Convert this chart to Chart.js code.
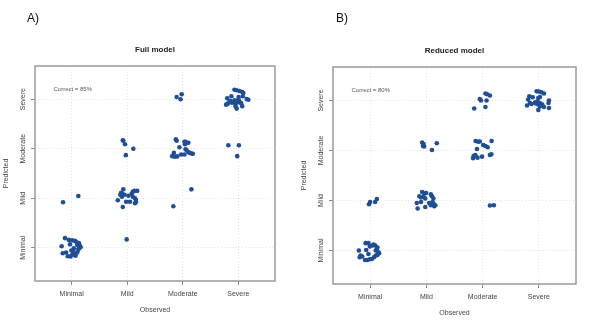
<!DOCTYPE html>
<html>
<head>
<meta charset="utf-8">
<script src="https://cdn.jsdelivr.net/npm/chart.js@4.4.1/dist/chart.umd.min.js"></script>
<style>
  body { margin: 0; background: #fff; }
  .panel { position: absolute; top: 0; height: 329px; }
</style>
</head>
<body>
<div class="panel" style="left:0;width:300px"><canvas id="fullChart" width="300" height="329"></canvas></div>
<div class="panel" style="left:300px;width:302px"><canvas id="reducedChart" width="302" height="329"></canvas></div>
<script>
// severity levels, used for both axes (observed on x, predicted on y)
const levels = ['Minimal', 'Mild', 'Moderate', 'Severe'];

// jittered [observed, predicted] pairs, full model
const fullModel = [
  // observed Minimal
  [0.88,1.195],[0.95,1.16],[1.01,1.15],[1.09,1.11],[1.13,1.095],[0.82,1.03],[0.97,1.07],[1.04,0.99],
  [1.13,0.99],[1.16,1.01],[0.84,0.89],[0.90,0.905],[0.98,0.825],[1.01,0.86],[1.05,0.88],[1.10,0.905],
  [1.15,1.03],[1.10,1.06],[0.995,0.945],[1.03,0.925],[1.12,0.96],[1.07,0.84],[0.93,0.83],[1.14,1.05],
  [1.06,1.14],[0.845,1.92],[1.12,2.046],
  // observed Mild
  [1.99,1.17],
  [1.93,2.18],[1.89,2.11],[1.92,2.08],[1.95,2.07],[1.905,2.03],[1.83,1.96],[1.98,1.93],[2.05,1.93],
  [1.92,1.825],[2.10,2.13],[2.13,2.15],[2.18,2.15],[2.10,2.03],[2.14,2.0],[2.155,1.97],[2.14,1.90],
  [2.16,1.93],[1.875,2.07],[2.02,2.05],[2.08,2.09],
  [1.93,3.16],[1.92,3.17],[1.96,3.09],[2.11,3.0],[1.975,2.87],
  // observed Moderate
  [2.83,1.84],[3.155,2.18],
  [2.875,3.19],[2.89,3.16],[3.03,3.14],[3.05,3.14],[3.10,3.12],[3.04,3.09],[2.94,3.03],[3.05,2.99],
  [3.07,2.97],[3.10,2.93],[3.155,2.905],[3.18,2.90],[2.84,2.92],[2.81,2.85],[2.855,2.84],[2.90,2.845],
  [2.97,2.885],[3.03,2.885],[3.125,2.92],
  [2.89,4.045],[2.96,4.00],[2.98,4.10],
  // observed Severe
  [3.82,3.07],[4.01,3.07],[3.98,2.85],
  [3.93,4.19],[3.97,4.18],[4.02,4.165],[4.07,4.145],[4.09,4.125],[3.875,4.06],[3.80,4.02],[4.005,4.045],
  [4.08,4.06],[4.15,4.005],[4.18,3.99],[3.84,3.94],[3.81,3.91],[3.78,3.89],[3.93,3.98],[3.97,3.96],
  [3.99,3.94],[4.02,3.94],[3.95,3.92],[4.05,3.92],[3.95,3.86],[4.07,3.86],[3.97,3.81],[3.86,3.96],
  [3.89,3.93],[4.005,3.99]
];

// jittered [observed, predicted] pairs, reduced model
const reducedModel = [
  // observed Minimal
  [0.92,1.147],[0.97,1.147],[0.995,1.08],[1.04,1.10],[1.09,1.10],[1.12,1.035],[1.10,1.0],[1.15,0.966],
  [1.16,0.946],[0.80,1.0],[0.83,0.90],[0.86,0.88],[0.815,0.865],[0.91,0.81],[0.95,0.81],[0.995,0.825],
  [1.03,0.83],[1.07,0.865],[1.10,0.90],[1.13,0.91],[0.93,1.01],[0.97,0.93],[1.06,1.12],[1.13,1.06],
  [0.98,1.925],[1.0,1.97],[1.09,1.97],[1.12,2.03],
  // observed Mild
  [1.925,2.17],[1.96,2.14],[1.995,2.15],[1.875,2.085],[1.905,2.06],[1.95,2.07],[1.98,2.04],[2.08,2.125],
  [2.10,2.085],[2.125,2.04],[1.83,1.95],[1.845,1.84],[1.905,1.97],[1.98,1.87],[2.05,1.95],[2.08,1.905],
  [2.125,1.94],[2.14,1.885],[2.16,1.905],[2.11,1.97],
  [1.925,3.16],[1.95,3.13],[1.94,3.09],[1.96,3.08],[2.10,3.01],[2.185,3.145],
  // observed Moderate
  [3.05,4.14],[3.08,4.125],[3.13,4.10],[2.95,4.03],[2.97,4.0],[3.07,4.0],[2.85,3.84],[3.05,3.87],
  [2.875,3.19],[2.92,3.175],[2.95,3.18],[3.16,3.19],[3.01,3.11],[3.05,3.09],[3.09,3.065],[2.90,3.03],
  [2.84,2.89],[2.87,2.91],[2.83,2.845],[2.91,2.857],[2.99,2.877],[3.13,2.91],[3.155,2.925],
  [3.13,1.90],[3.20,1.905],
  // observed Severe
  [3.96,4.185],[4.0,4.18],[4.045,4.165],[4.09,4.14],[3.83,4.085],[3.89,4.065],[3.81,4.02],[3.99,4.05],
  [4.02,4.07],[4.18,4.0],[4.17,3.95],[3.84,3.95],[3.79,3.90],[3.87,3.93],[3.93,3.96],[3.97,3.98],
  [4.0,3.96],[4.03,3.94],[3.99,3.92],[4.06,3.92],[4.02,3.88],[3.99,3.81],[4.09,3.87],[4.18,3.85],
  [3.95,3.94]
];

const FONT = "'Liberation Sans', Arial, sans-serif";

// box, titles and rotated y labels drawn R-style around the plot area
const panelText = {
  id: 'panelText',
  beforeDatasetsDraw(chart) {
    const { ctx, chartArea: a } = chart;
    ctx.save();
    ctx.strokeStyle = '#9a9a9a';
    ctx.lineWidth = 1.5;
    ctx.strokeRect(a.left, a.top, a.right - a.left, a.bottom - a.top);
    ctx.restore();
  },
  afterDraw(chart, args, opts) {
    const { ctx, chartArea: a } = chart;
    const cx = (a.left + a.right) / 2;
    const cy = (a.top + a.bottom) / 2;
    ctx.save();
    ctx.textBaseline = 'middle';

    ctx.fillStyle = '#111';
    ctx.font = '12px ' + FONT;
    ctx.textAlign = 'left';
    ctx.fillText(opts.tag, opts.tagX, 18.5);

    ctx.fillStyle = '#222';
    ctx.font = 'bold 8px ' + FONT;
    ctx.textAlign = 'center';
    ctx.fillText(opts.title, cx, a.top - 16);

    ctx.fillStyle = '#555';
    ctx.font = '6px ' + FONT;
    ctx.textAlign = 'left';
    ctx.fillText(opts.note, a.left + 18.5, a.top + 23.5);

    ctx.fillStyle = '#444';
    ctx.font = '7px ' + FONT;
    ctx.textAlign = 'center';
    ctx.fillText('Observed', cx, a.bottom + 29);

    const y = chart.scales.y;
    ctx.save();
    ctx.translate(a.left - 28.5, cy);
    ctx.rotate(-Math.PI / 2);
    ctx.fillText('Predicted', 0, 0);
    ctx.restore();

    levels.forEach((lab, i) => {
      ctx.save();
      ctx.translate(a.left - 12, y.getPixelForValue(i + 1));
      ctx.rotate(-Math.PI / 2);
      ctx.fillText(lab, 0, 0);
      ctx.restore();
    });
    ctx.restore();
  }
};

function levelTicks(scale) {
  scale.ticks = levels.map((_, i) => ({ value: i + 1 }));
}

function makeChart(id, points, text, padding) {
  return new Chart(document.getElementById(id), {
    type: 'scatter',
    data: {
      datasets: [{
        data: points.map(p => ({ x: p[0], y: p[1] })),
        backgroundColor: '#1f4e96',
        borderWidth: 0,
        pointRadius: 2.3,
        pointHoverRadius: 2.3
      }]
    },
    options: {
      responsive: false,
      animation: false,
      devicePixelRatio: 1,
      layout: { padding: padding },
      events: [],
      scales: {
        x: {
          type: 'linear',
          min: 0.34, max: 4.66,
          afterBuildTicks: levelTicks,
          afterFit: s => { s.height = 22; },
          ticks: {
            callback: v => levels[v - 1],
            font: { family: FONT, size: 7 },
            color: '#444',
            padding: 5,
            maxRotation: 0
          },
          grid: { color: '#e4e4e4', tickColor: '#888', tickLength: 4, lineWidth: 1 },
          border: { display: false, dash: [1, 2] }
        },
        y: {
          type: 'linear',
          min: 0.33, max: 4.67,
          afterBuildTicks: levelTicks,
          afterFit: s => { s.width = 6; },
          ticks: { display: false },
          grid: { color: '#e4e4e4', tickColor: '#888', tickLength: 4, lineWidth: 1 },
          border: { display: false, dash: [1, 2] }
        }
      },
      plugins: {
        legend: { display: false },
        tooltip: { enabled: false },
        panelText: text
      }
    },
    plugins: [panelText]
  });
}

makeChart('fullChart', fullModel,
  { tag: 'A)', tagX: 27, title: 'Full model', note: 'Correct = 85%' },
  { left: 29, right: 25, top: 66, bottom: 26 });

makeChart('reducedChart', reducedModel,
  { tag: 'B)', tagX: 36, title: 'Reduced model', note: 'Correct = 80%' },
  { left: 27, right: 26, top: 67, bottom: 23 });
</script>
</body>
</html>
